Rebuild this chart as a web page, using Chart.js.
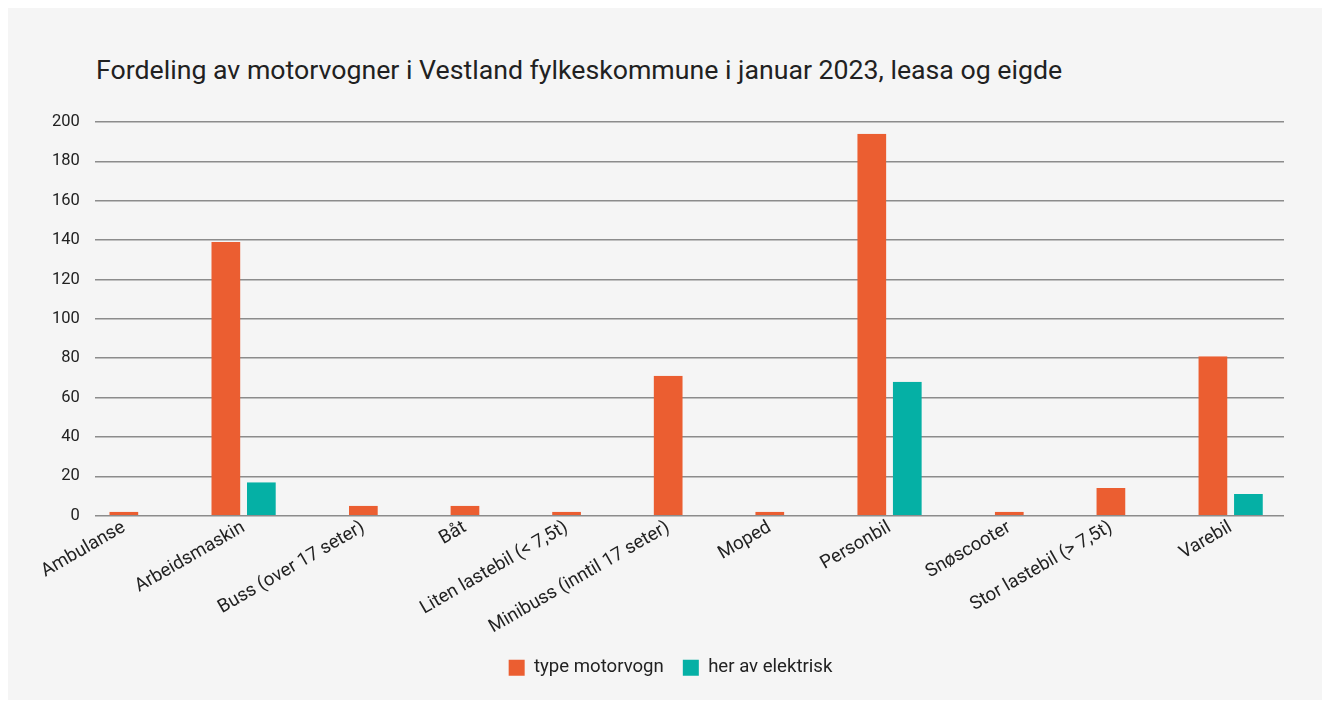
<!DOCTYPE html>
<html>
<head>
<meta charset="utf-8">
<script src="https://cdn.jsdelivr.net/npm/chart.js@4.4.0/dist/chart.umd.min.js"></script>
<style>
  body { margin: 0; background: #fff; font-family: Roboto, sans-serif; }
  .panel { position: absolute; left: 8px; top: 8px; width: 1314px; height: 692px; background: #f5f5f5; }
  .title { position: absolute; left: 88px; top: 47px; font-size: 26.7px; line-height: 31px; color: #212121; white-space: nowrap; }
  .wrap { position: absolute; left: 0; top: 89px; width: 1314px; height: 603px; }
</style>
</head>
<body>
<div class="panel">
  <div class="title">Fordeling av motorvogner i Vestland fylkeskommune i januar 2023, leasa og eigde</div>
  <div class="wrap"><canvas id="chart"></canvas></div>
</div>
<script>
const categories = [
  "Ambulanse",
  "Arbeidsmaskin",
  "Buss (over 17 seter)",
  "Båt",
  "Liten lastebil (< 7,5t)",
  "Minibuss (inntil 17 seter)",
  "Moped",
  "Personbil",
  "Snøscooter",
  "Stor lastebil (> 7,5t)",
  "Varebil",
];
const typeMotorvogn = [2, 139, 5, 5, 2, 71, 2, 194, 2, 14, 81];
const herAvElektrisk = [null, 17, null, null, null, null, null, 68, null, null, 11];
const seriesNames = ["type motorvogn", "her av elektrisk"];
const yMax = 200;
const yStep = 20;

const colors = {
  orange: "#eb5e31",
  teal: "#05b0a5",
  grid: "#8c8c8c",
  text: "#222222",
};

// groups only hold the bars that have a value, so the spacing follows the data
const GAP = 1.8;
const EDGE_LEFT = 0.3;
const EDGE_RIGHT = 0.47;
const centers = [];
let pos = EDGE_LEFT;
categories.forEach((c, i) => {
  const n = herAvElektrisk[i] == null ? 1 : 2;
  centers.push(pos + n / 2);
  pos += n + GAP;
});
const xMax = pos - GAP + EDGE_RIGHT;

const toPoints = (values) =>
  values
    .map((v, i) => ({ x: centers[i], y: v }))
    .filter((p) => p.y != null);

const barStyle = {
  barThickness: 35.5,
  borderWidth: { left: 3.4, right: 3.4, top: 0, bottom: 0 },
  borderColor: "rgba(0,0,0,0)",
  inflateAmount: 0,
  skipNull: true,
};

Chart.defaults.font.family = "Roboto, sans-serif";
Chart.defaults.color = colors.text;

new Chart(document.getElementById("chart"), {
  type: "bar",
  data: {
    datasets: [
      { label: seriesNames[0], data: toPoints(typeMotorvogn), backgroundColor: colors.orange, ...barStyle },
      { label: seriesNames[1], data: toPoints(herAvElektrisk), backgroundColor: colors.teal, ...barStyle },
    ],
  },
  options: {
    responsive: true,
    maintainAspectRatio: false,
    animation: false,
    layout: { padding: { left: 29, right: 18, top: 8, bottom: 13 } },
    scales: {
      x: {
        type: "linear",
        min: 0,
        max: xMax,
        offset: false,
        grid: { display: false, drawTicks: false },
        border: { display: false },
        afterBuildTicks: (axis) => {
          axis.ticks = centers.map((v) => ({ value: v }));
        },
        ticks: {
          autoSkip: false,
          minRotation: 30,
          maxRotation: 30,
          padding: 1,
          font: { size: 18.6 },
          color: colors.text,
          callback: (v, i) => categories[i],
        },
      },
      y: {
        min: 0,
        max: yMax,
        grid: { color: colors.grid, lineWidth: 1.5, drawTicks: false },
        border: { display: false },
        ticks: { stepSize: yStep, padding: 15, font: { size: 16.5 }, color: colors.text },
      },
      // empty right margin, keeps the legend centred like the original
      yRight: {
        position: "right",
        grid: { display: false, drawTicks: false },
        border: { display: false },
        ticks: { display: false },
        afterFit: (axis) => {
          axis.width = 20;
        },
      },
    },
    plugins: {
      tooltip: { enabled: false },
      legend: {
        position: "bottom",
        labels: { boxWidth: 16, boxHeight: 16, padding: 19, font: { size: 18.6 }, color: colors.text },
      },
    },
  },
});
</script>
</body>
</html>
